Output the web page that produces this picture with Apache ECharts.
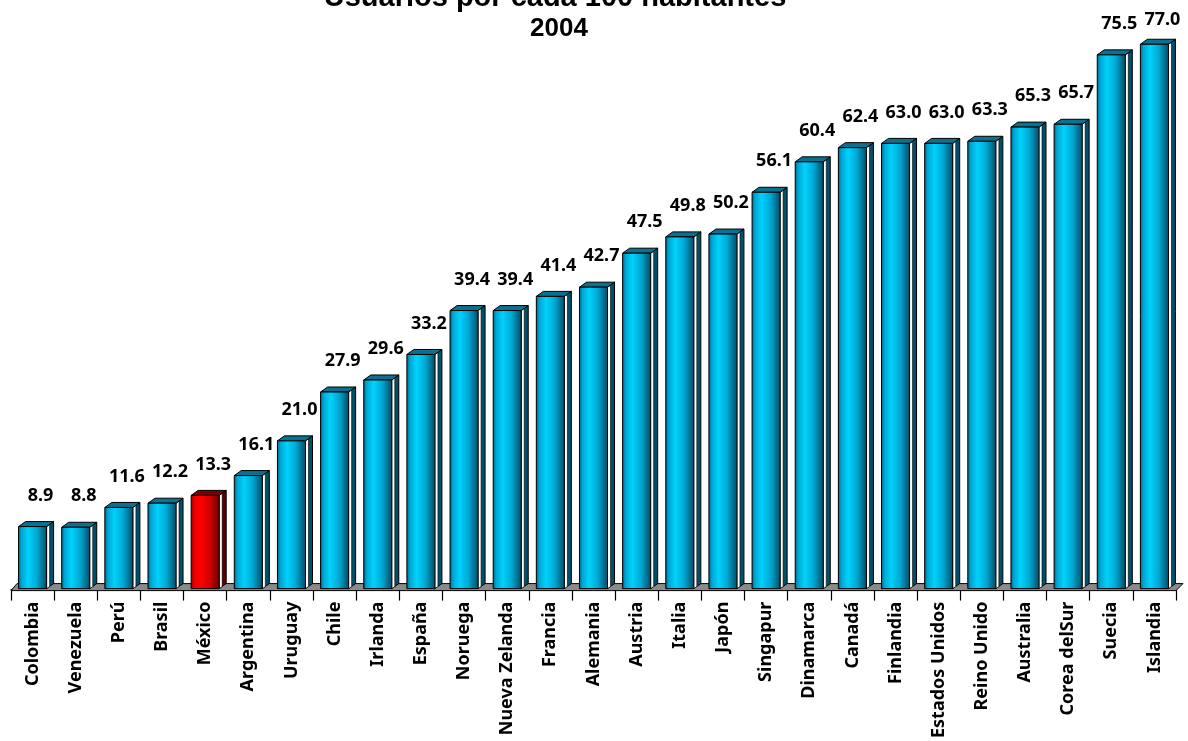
<!DOCTYPE html>
<html>
<head>
<meta charset="utf-8">
<script src="https://cdn.jsdelivr.net/npm/echarts@6/dist/echarts.min.js"></script>
<style>
  html, body { margin: 0; padding: 0; background: #ffffff; }
  #chart { width: 1188px; height: 741px; }
</style>
</head>
<body>
<div id="chart"></div>
<script>
// Usuarios de Internet por cada 100 habitantes, 2004
const countries = [
  'Colombia', 'Venezuela', 'Perú', 'Brasil', 'México', 'Argentina', 'Uruguay',
  'Chile', 'Irlanda', 'España', 'Noruega', 'Nueva Zelanda', 'Francia', 'Alemania',
  'Austria', 'Italia', 'Japón', 'Singapur', 'Dinamarca', 'Canadá', 'Finlandia',
  'Estados Unidos', 'Reino Unido', 'Australia', 'Corea delSur', 'Suecia', 'Islandia'
];
const users = [
  8.9, 8.8, 11.6, 12.2, 13.3, 16.1, 21.0, 27.9, 29.6, 33.2, 39.4, 39.4, 41.4, 42.7,
  47.5, 49.8, 50.2, 56.1, 60.4, 62.4, 63.0, 63.0, 63.3, 65.3, 65.7, 75.5, 77.0
];
const highlighted = 'México';
const titleLines = ['-Usuarios por cada 100 habitantes-', '2004'];

// Colour sets for the pseudo-3D columns
const palettes = {
  normal: {
    front: [
      { offset: 0, color: '#00627f' },
      { offset: 0.12, color: '#00a6d4' },
      { offset: 0.35, color: '#00d2fc' },
      { offset: 0.65, color: '#00a8d4' },
      { offset: 1, color: '#004a62' }
    ],
    side: '#00506a',
    top: '#0a7290'
  },
  accent: {
    front: [
      { offset: 0, color: '#a00000' },
      { offset: 0.15, color: '#f00000' },
      { offset: 0.35, color: '#ff0000' },
      { offset: 0.7, color: '#c80000' },
      { offset: 1, color: '#600000' }
    ],
    side: '#5a0000',
    top: '#7a0000'
  }
};

const DX = 7, DY = 5; // depth offset of the 3D effect
const LABEL_FONT = 'bold 18px "Noto Sans", "DejaVu Sans", sans-serif';

const barData = users.map((v, i) => [i, v]);

function renderColumn(params, api) {
  const idx = api.value(0);
  const val = api.value(1);
  const topPt = api.coord([idx, val]);
  const basePt = api.coord([idx, 0]);
  const band = api.size([1, 0])[0];
  const w = band * 0.65;
  const x0 = topPt[0] - w / 2;
  const x1 = topPt[0] + w / 2;
  const yTop = topPt[1];
  const yBase = basePt[1] - 1;
  const pal = countries[idx] === highlighted ? palettes.accent : palettes.normal;
  const stroke = { stroke: '#000', lineWidth: 1 };
  // value labels sit above the column, kept inside the plot's top margin
  const labelY = Math.max(yTop - 31, 20);
  return {
    type: 'group',
    children: [
      {
        type: 'polygon',
        shape: { points: [[x1, yTop], [x1 + DX, yTop - DY], [x1 + DX, yBase - DY], [x1, yBase]] },
        style: Object.assign({ fill: pal.side }, stroke)
      },
      {
        type: 'polygon',
        shape: { points: [[x1, yTop], [x1 + 3, yTop - 2], [x1 + 3, yBase - 2], [x1, yBase]] },
        style: { fill: '#ffffff', stroke: '#000', lineWidth: 0.6 }
      },
      {
        type: 'polygon',
        shape: { points: [[x0, yTop], [x0 + DX, yTop - DY], [x1 + DX, yTop - DY], [x1, yTop]] },
        style: Object.assign({ fill: pal.top }, stroke)
      },
      {
        type: 'rect',
        shape: { x: x0, y: yTop, width: w, height: yBase - yTop },
        style: Object.assign({
          fill: new echarts.graphic.LinearGradient(0, 0, 1, 0, pal.front)
        }, stroke)
      },
      {
        type: 'text',
        style: {
          text: val.toFixed(1),
          x: topPt[0] + 8,
          y: labelY,
          align: 'center',
          verticalAlign: 'middle',
          font: LABEL_FONT,
          fill: '#000'
        }
      }
    ]
  };
}

function renderFloor(params, api) {
  const n = countries.length;
  const band = api.size([1, 0])[0];
  const left = api.coord([0, 0])[0] - band / 2;
  const right = api.coord([n - 1, 0])[0] + band / 2;
  const y = api.coord([0, 0])[1] + 1;
  return {
    type: 'polygon',
    shape: { points: [[left, y], [left + DX - 1, y - DY - 2], [right + DX, y - DY - 2], [right, y]] },
    style: { fill: '#8a8a8a', stroke: '#000', lineWidth: 1 }
  };
}

const chart = echarts.init(document.getElementById('chart'), null, { renderer: 'canvas' });

chart.setOption({
  animation: false,
  backgroundColor: '#ffffff',
  graphic: [
    {
      type: 'text', x: 555, y: -2,
      style: { text: titleLines[0], align: 'center', verticalAlign: 'middle',
        font: 'bold 29px "Liberation Sans", Arial, sans-serif', fill: '#000' }
    },
    {
      type: 'text', x: 559, y: 29,
      style: { text: titleLines[1], align: 'center', verticalAlign: 'middle',
        font: 'bold 26px "Liberation Sans", Arial, sans-serif', fill: '#000' }
    }
  ],
  grid: { left: 11, right: 12, top: 23, bottom: 151, containLabel: false },
  xAxis: {
    type: 'category',
    data: countries,
    boundaryGap: true,
    axisLine: { show: true, lineStyle: { color: '#000', width: 1 } },
    axisTick: { show: true, interval: 0, length: 11, lineStyle: { color: '#000', width: 1.2 } },
    axisLabel: {
      interval: 0,
      rotate: 90,
      margin: 12,
      color: '#000',
      fontFamily: '"Noto Sans", "DejaVu Sans", sans-serif',
      fontWeight: 'bold',
      fontSize: 18,
      padding: [6, 0, 0, 0]
    },
    splitLine: { show: false }
  },
  yAxis: {
    type: 'value',
    min: 0,
    max: 80,
    show: false
  },
  series: [
    {
      type: 'custom',
      name: 'piso',
      z: 1,
      renderItem: renderFloor,
      data: [[0, 0]],
      encode: { x: 0, y: 1 },
      silent: true
    },
    {
      type: 'custom',
      name: 'Usuarios por cada 100 habitantes',
      z: 2,
      renderItem: renderColumn,
      data: barData,
      encode: { x: 0, y: 1 }
    }
  ]
});
</script>
</body>
</html>
